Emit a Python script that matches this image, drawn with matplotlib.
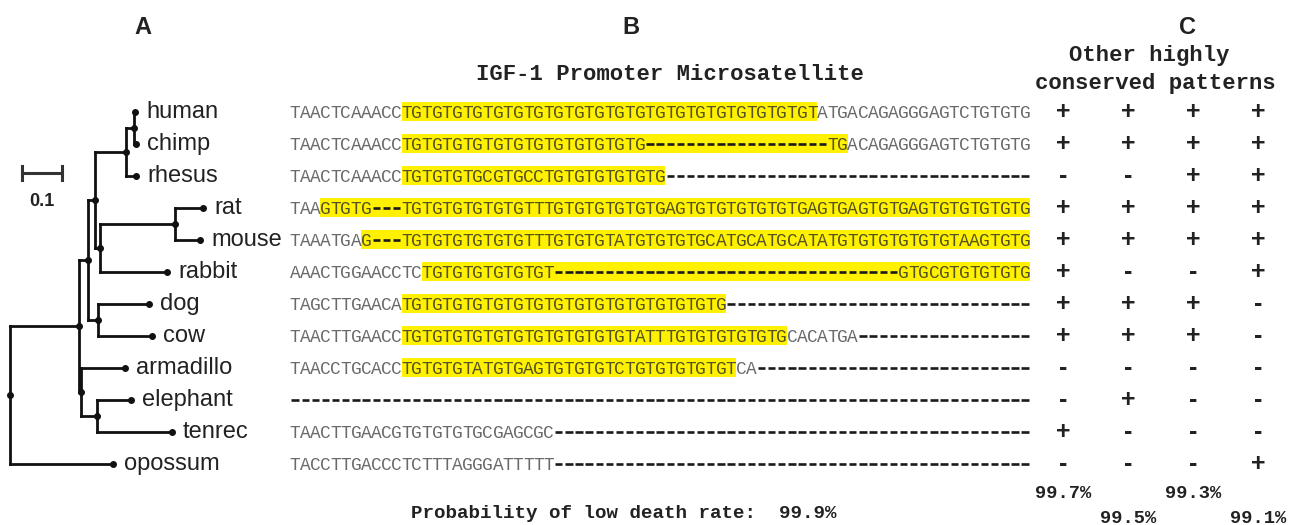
import matplotlib.pyplot as plt
from matplotlib.patches import Rectangle

# ---- data -------------------------------------------------------------
species = ['human', 'chimp', 'rhesus', 'rat', 'mouse', 'rabbit',
           'dog', 'cow', 'armadillo', 'elephant', 'tenrec', 'opossum']

# (branch length, children or leaf name)
tree = (0.0, [
    (0.1725, [
        (0.0225, [
            (0.0175, [
                (0.0775, [
                    (0.02, [(0.003, 'human'), (0.005, 'chimp')]),
                    (0.025, 'rhesus')]),
                (0.0125, [
                    (0.1875, [(0.07, 'rat'), (0.0625, 'mouse')]),
                    (0.1675, 'rabbit')])]),
            (0.025, [(0.1275, 'dog'), (0.135, 'cow')])]),
        (0.005, [
            (0.11, 'armadillo'),
            (0.04, [(0.085, 'elephant'), (0.1875, 'tenrec')])])]),
    (0.2575, 'opossum')])
scale_len = 0.1

# alignment: flank before, highlighted microsatellite, flank after
seq_pre = ['TAACTCAAACC', 'TAACTCAAACC', 'TAACTCAAACC', 'TAA', 'TAAATGA',
           'AAACTGGAACCTC', 'TAGCTTGAACA', 'TAACTTGAACC', 'TAACCTGCACC', '',
           'TAACTTGAAC' 'GTGTGTGTGC' 'GAGCGC',
           'TACCTTGACC' 'CTCTTTAGGG' 'ATTTTT']
seq_hl = [
    'TGTGTGTGTG' 'TGTGTGTGTG' 'TGTGTGTGTG' 'TGTGTGTGTG' 'T',
    'TGTGTGTGTG' 'TGTGTGTGTG' 'TGTG' '----------' '--------' 'TG',
    'TGTGTGTGCG' 'TGCCTGTGTG' 'TGTGTG',
    'GTGTG---' 'TGTGTGTGTG' 'TGTTTGTGTG' 'TGTG'
    'TGAGTGTGTG' 'TGTGTGAGTG' 'AGTGTGAGTG' 'TGTGTGTG',
    'G---' 'TGTGTGTGTG' 'TGTTTGTGTG' 'TATG'
    'TGTGTGCATG' 'CATGCATATG' 'TGTGTGTGTG' 'TAAGTGTG',
    'TGTGTGTGTG' 'TGT' '----------' '----------' '----------' '----'
    'GTGCGTGTGT' 'GTG',
    'TGTGTGTGTG' 'TGTGTGTGTG' 'TGTGTGTGTG' 'TG',
    'TGTGTGTGTG' 'TGTGTGTGTG' 'TGTATTTGTG' 'TGTGTGTG',
    'TGTGTGTATG' 'TGAGTGTGTG' 'TCTGTGTGTG' 'TGT',
    '', '', '']
seq_post = [
    'ATGACAGAGG' 'GAGTCTGTGT' 'G',
    'ACAGAGGGAG' 'TCTGTGTG',
    '----------' '----------' '----------' '------',
    '', '', '',
    '----------' '----------' '----------',
    'CACATGA' '----------' '-------',
    'CA' '----------' '----------' '-------',
    '----------' '----------' '----------' '----------' '----------'
    '----------' '----------' '---',
    '----------' '----------' '----------' '----------' '-------',
    '----------' '----------' '----------' '----------' '-------']

patterns = ['++++', '++++', '--++', '++++', '++++', '+--+',
            '+++-', '+++-', '----', '-+--', '+---', '---+']
pattern_prob = [99.7, 99.5, 99.3, 99.1]
microsat_prob = 99.9

# ---- layout -----------------------------------------------------------
W, H = 1298, 525
row0, row_h = 111.5, 32.0
char_w = 10.14
mono = 'Liberation Mono'
sans = 'Liberation Sans'

fig = plt.figure(figsize=(W / 100, H / 100), dpi=100)


def panel(x0, x1):
    ax = fig.add_axes([x0 / W, 0, (x1 - x0) / W, 1])
    ax.set_ylim((H - row0) / row_h, -row0 / row_h)
    ax.axis('off')
    return ax


# ---- A: tree ----------------------------------------------------------
ax_tree = panel(0, 290)
ax_tree.set_xlim(-0.025, 0.7)
line_kw = dict(color='#111111', lw=2.0, solid_capstyle='projecting')


def draw_node(node, x_parent):
    length, kids = node
    x = x_parent + length
    if isinstance(kids, str):
        y = species.index(kids)
        ax_tree.annotate(kids, (x, y + 0.2), xytext=(8, 0), textcoords='offset points',
                         ha='left', va='baseline', family=sans, fontsize=17,
                         color='#222222')
    else:
        ys = [draw_node(k, x) for k in kids]
        y = (ys[0] + ys[-1]) / 2
        ax_tree.plot([x, x], [ys[0], ys[-1]], **line_kw)
    if length > 0:
        ax_tree.plot([x_parent, x], [y, y], **line_kw)
    ax_tree.plot(x, y, 'o', ms=4, color='#111111', zorder=5)
    return y


draw_node(tree, 0.0)

# scale bar
sb_x, sb_y = 0.03, 1.92
ax_tree.plot([sb_x, sb_x + scale_len], [sb_y, sb_y], color='#333333', lw=2.2)
for xe in (sb_x, sb_x + scale_len):
    ax_tree.plot([xe, xe], [sb_y - 0.23, sb_y + 0.23], color='#333333', lw=2.2)
ax_tree.text(sb_x + scale_len / 2, 2.81, f'{scale_len:g}', ha='center', va='center',
             family=sans, fontsize=13, fontweight='bold', color='#222222')

# ---- B: alignment -----------------------------------------------------
ax_seq = panel(290, 1050)
ax_seq.set_xlim(0, 760 / char_w)
for r, (pre, hl, post) in enumerate(zip(seq_pre, seq_hl, seq_post)):
    if hl:
        ax_seq.add_patch(Rectangle((len(pre), r - 0.31), len(hl), 0.62,
                                   facecolor='#FFF100', lw=0, zorder=1))
    full = pre + hl + post
    dash_x = []
    for i, ch in enumerate(full):
        if ch == '-':
            dash_x.append(i)
            continue
        inside = len(pre) <= i < len(pre) + len(hl)
        ax_seq.text(i + 0.5, r + 0.19, ch, ha='center', va='baseline',
                    family=mono, fontsize=12.8,
                    color='#55531f' if inside else '#6a6a6a', zorder=3)
    ax_seq.hlines([r + 0.02] * len(dash_x), [i + 0.14 for i in dash_x],
                  [i + 0.86 for i in dash_x], color='#1a1a1a', lw=1.9, zorder=3)

# ---- C: other conserved patterns -------------------------------------
ax_c = panel(1050, 1298)
ax_c.set_xlim((1050 - 1063) / 65, (1298 - 1063) / 65)
for r, pat in enumerate(patterns):
    for c, sym in enumerate(pat):
        ax_c.text(c, r + 0.03, sym, ha='center', va='center', family=sans,
                  fontsize=18, fontweight='bold', color='#222222')
for c, p in enumerate(pattern_prob):
    ax_c.text(c, 11.95 if c % 2 == 0 else 12.72, f'{p:.1f}%', ha='center', va='center',
              family=mono, fontsize=13.5, fontweight='bold', color='#222222')

# ---- titles -----------------------------------------------------------
def ftext(x, y, s, **kw):
    fig.text(x / W, 1 - y / H, s, **kw)


for x, lab in [(143, 'A'), (631, 'B'), (1187, 'C')]:
    ftext(x, 27, lab, ha='center', va='center', family=sans, fontsize=17,
          fontweight='bold', color='#222222')
ftext(670, 74, 'IGF-1 Promoter Microsatellite', ha='center', va='center',
      family=mono, fontsize=16, fontweight='bold', color='#222222')
ftext(1149, 56, 'Other highly', ha='center', va='center',
      family=mono, fontsize=16, fontweight='bold', color='#222222')
ftext(1155, 83, 'conserved patterns', ha='center', va='center',
      family=mono, fontsize=16, fontweight='bold', color='#222222')
ftext(624, 513, f'Probability of low death rate:  {microsat_prob:.1f}%', ha='center',
      va='center', family=mono, fontsize=13.8, fontweight='bold', color='#222222')

fig.savefig('out.png', dpi=100)
